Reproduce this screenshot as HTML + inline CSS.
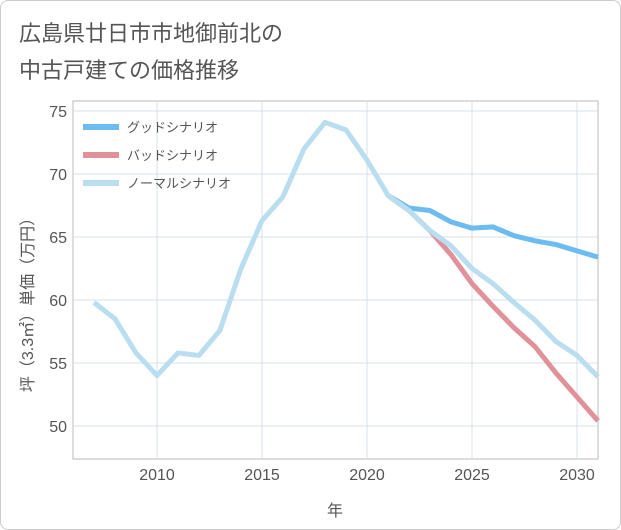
<!DOCTYPE html>
<html><head><meta charset="utf-8"><style>
body{margin:0;background:#fff;font-family:"Liberation Sans","Noto Sans CJK JP",sans-serif;}
#wrap{position:relative;width:619px;height:528px;border:1px solid #ccc;border-radius:8px;overflow:hidden;}
</style></head><body>
<div id="wrap">
<svg id="chart" width="621" height="530"></svg>
</div>
<script>
const years=[2007,2008,2009,2010,2011,2012,2013,2014,2015,2016,2017,2018,2019,2020,2021,2022,2023,2024,2025,2026,2027,2028,2029,2030,2031];
const normal=[59.8,58.5,55.8,54.0,55.8,55.6,57.6,62.5,66.3,68.2,72.0,74.1,73.5,71.1,68.3,67.1,65.5,64.3,62.5,61.3,59.8,58.4,56.7,55.6,53.9];
const goodYears=[2021,2022,2023,2024,2025,2026,2027,2028,2029,2030,2031];
const good=[68.3,67.3,67.1,66.2,65.7,65.8,65.1,64.7,64.4,63.9,63.4];
const bad=[68.3,67.1,65.5,63.6,61.3,59.5,57.8,56.3,54.2,52.3,50.4];
const xTicks=[2010,2015,2020,2025,2030];
const yTicks=[50,55,60,65,70,75];
const NS="http://www.w3.org/2000/svg";
const svg=document.getElementById('chart');
const L=72,R=597,T=100,B=458;
const xs=y=>156+(y-2010)*21;
const ys=v=>425-(v-50)*12.6;
function mk(t,a,p){const e=document.createElementNS(NS,t);for(const k in a)e.setAttribute(k,a[k]);(p||svg).appendChild(e);return e;}
function txt(s,a){const e=mk('text',a);e.textContent=s;return e;}
const title1=txt('広島県廿日市市地御前北の',{x:18,y:40,'font-size':22,fill:'#555'});


const title2=txt('中古戸建ての価格推移',{x:18,y:77,'font-size':22,fill:'#555'});


const frame=mk('rect',{x:L,y:T,width:R-L,height:B-T,fill:'none',stroke:'#bbb'});


xTicks.forEach(t=>{
 const g=mk('line',{x1:xs(t),x2:xs(t),y1:T,y2:B,stroke:'#d5e0ea'});
 
 
 const l=txt(t,{x:xs(t),y:479,'font-size':16,fill:'#555','text-anchor':'middle'});
 
 
});
yTicks.forEach(t=>{
 const g=mk('line',{x1:L,x2:R,y1:ys(t),y2:ys(t),stroke:'#d5e0ea'});
 
 
 const l=txt(t,{x:66,y:ys(t)+6,'font-size':16,fill:'#555','text-anchor':'end'});
 
 
});
const xt=txt('年',{x:334,y:515,'font-size':16,fill:'#555','text-anchor':'middle'});


const yt=txt('坪（3.3㎡）単価（万円）',{x:0,y:0,'font-size':16,fill:'#555','text-anchor':'middle',transform:'translate(32,300) rotate(-90)'});


function line(xv,yv,color,name){
 const d=xv.map((x,i)=>(i?'L':'M')+xs(x)+','+ys(yv[i])).join(' ');
 const p=mk('path',{d:d,fill:'none',stroke:color,'stroke-width':5,'stroke-linejoin':'round'});
 
 
}
line(goodYears,good,'#6cbcf2','good-scenario-line');
line(goodYears,bad,'#e0919a','bad-scenario-line');
line(years,normal,'#b9def0','normal-scenario-line');
const leg=[['グッドシナリオ','#6cbcf2'],['バッドシナリオ','#e0919a'],['ノーマルシナリオ','#b9def0']];
leg.forEach((e,i)=>{
 const y=126+i*28;
 const s=mk('line',{x1:82,x2:118,y1:y,y2:y,stroke:e[1],'stroke-width':6});
 
 
 const t=txt(e[0],{x:126,y:y+5,'font-size':13,fill:'#555'});
 
 
});
</script>
</body></html>
